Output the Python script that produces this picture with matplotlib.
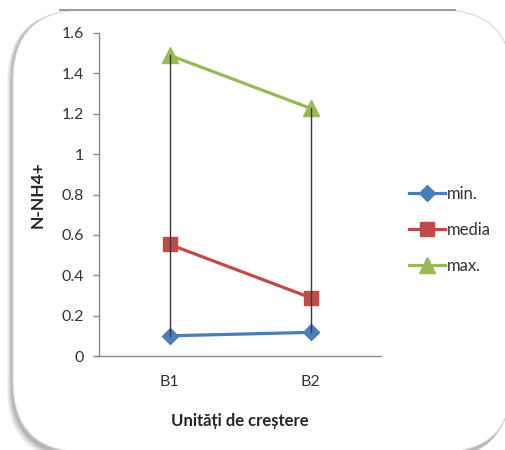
import matplotlib
matplotlib.use("Agg")
import matplotlib.pyplot as plt
from matplotlib.patches import FancyBboxPatch
from matplotlib.lines import Line2D

# Data
categories = ["B1", "B2"]
min_vals = [0.10, 0.117]
media_vals = [0.553, 0.289]
max_vals = [1.49, 1.227]
series_labels = ["min.", "media", "max."]
y_ticks = [0, 0.2, 0.4, 0.6, 0.8, 1, 1.2, 1.4, 1.6]
y_tick_labels = ["0", "0.2", "0.4", "0.6", "0.8", "1", "1.2", "1.4", "1.6"]

W, H = 505, 450
plt.rcParams["font.family"] = ["Lato", "DejaVu Sans"]

fig = plt.figure(figsize=(W / 100, H / 100), dpi=100, facecolor="white")


def px_box(x0, y0, x1, y1):
    """Convert a pixel box (top-left origin) to figure fractions."""
    return x0 / W, 1 - y1 / H, (x1 - x0) / W, (y1 - y0) / H


# Rounded panel with a soft shadow on the left/bottom
for i, a in enumerate([0.05, 0.05, 0.06, 0.07, 0.08]):
    off = 5 - i
    fx, fy, fw, fh = px_box(12 - off, 10 + off * 0.3, 512 - off, 455 + off)
    fig.patches.append(FancyBboxPatch(
        (fx, fy), fw, fh, boxstyle="round,pad=0,rounding_size=0.14",
        transform=fig.transFigure, facecolor="#000000", edgecolor="none",
        alpha=a, mutation_aspect=W / H, zorder=0))
fx, fy, fw, fh = px_box(13, 10, 512, 452)
fig.patches.append(FancyBboxPatch(
    (fx, fy), fw, fh, boxstyle="round,pad=0,rounding_size=0.14",
    transform=fig.transFigure, facecolor="white", edgecolor="#d8d8d8",
    linewidth=0.8, mutation_aspect=W / H, zorder=1))
fig.lines.append(Line2D([60 / W, 455 / W], [1 - 10 / H, 1 - 10 / H],
                        transform=fig.transFigure, color="#9a9a9a",
                        linewidth=1.4, zorder=2))

# Plot area
ax = fig.add_axes([99 / W, 1 - 356 / H, (381 - 99) / W, (356 - 33) / H])
ax.set_zorder(5)
ax.set_facecolor("none")
x = [0.5, 1.5]

# High-low lines
for xi, lo, hi in zip(x, min_vals, max_vals):
    ax.plot([xi, xi], [lo, hi], color="#3a3a3a", linewidth=1.0, zorder=4)

ax.plot(x, min_vals, color="#4A7EBB", linewidth=2.3, marker="D",
        markersize=8.5, label=series_labels[0], zorder=3)
ax.plot(x, media_vals, color="#BE4B48", linewidth=2.3, marker="s",
        markersize=10, label=series_labels[1], zorder=3)
ax.plot(x, max_vals, color="#98B954", linewidth=2.3, marker="^",
        markersize=12, label=series_labels[2], zorder=3)

ax.set_xlim(0, 2)
ax.set_ylim(0, 1.6)
ax.set_xticks(x)
ax.set_xticklabels(categories)
ax.set_yticks(y_ticks)
ax.set_yticklabels(y_tick_labels)

for s in ["top", "right"]:
    ax.spines[s].set_visible(False)
for s in ["left", "bottom"]:
    ax.spines[s].set_color("#8a8a8a")
    ax.spines[s].set_linewidth(1.0)
ax.spines["bottom"].set_bounds(-0.03, 2)

ax.tick_params(axis="y", length=4, width=1, color="#8a8a8a", pad=7,
               labelsize=11.5, labelcolor="#333333")
ax.tick_params(axis="x", length=0, pad=14, labelsize=11.5,
               labelcolor="#333333")

ax.set_ylabel("N-NH4+", fontsize=12.5, fontweight="bold", color="#262626")
ax.yaxis.set_label_coords(-0.19, 0.5)
ax.set_xlabel("Unități de creștere", fontsize=12, fontweight="bold",
              color="#262626")
ax.xaxis.set_label_coords(0.5, -0.176)

leg = ax.legend(loc="center left", bbox_to_anchor=(394 / W, 1 - 230 / H),
                bbox_transform=fig.transFigure, frameon=False, fontsize=12,
                handlelength=2.15, handletextpad=0.12, labelspacing=1.2,
                labelcolor="#333333")

fig.savefig("out.png", dpi=100, facecolor="white")
